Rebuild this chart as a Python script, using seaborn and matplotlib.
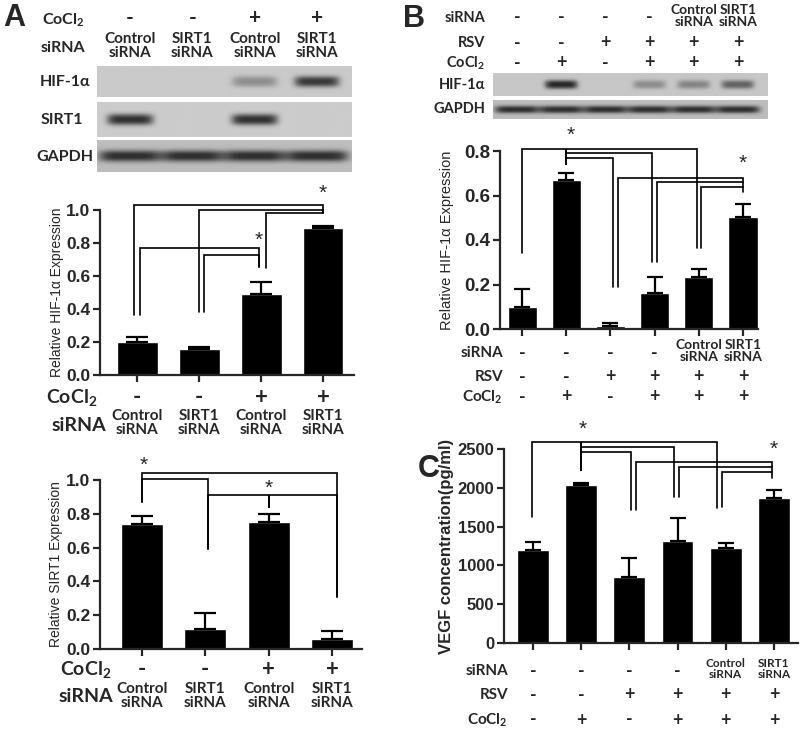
import numpy as np
import matplotlib
matplotlib.use('Agg')
import matplotlib.pyplot as plt
import matplotlib.transforms as mtransforms
import seaborn as sns

sns.set_style('ticks')
plt.rcParams['font.family'] = ['Liberation Sans', 'DejaVu Sans']
plt.rcParams['mathtext.default'] = 'regular'
LAB = ['Lato', 'DejaVu Sans']

# ---- panel A data ----
a_cocl = ['-', '-', '+', '+']
a_sirna = ['Control\nsiRNA', 'SIRT1\nsiRNA', 'Control\nsiRNA', 'SIRT1\nsiRNA']
a_hif = [0.20, 0.16, 0.49, 0.89]
a_hif_err = [0.03, 0.008, 0.075, 0.015]
a_sirt = [0.74, 0.12, 0.75, 0.06]
a_sirt_err = [0.045, 0.095, 0.05, 0.045]
a_blot_hif = [0.0, 0.0, 0.35, 0.85]
a_blot_sirt = [0.9, 0.0, 0.9, 0.0]
a_blot_gapdh = [0.9, 0.9, 0.9, 0.9]

# ---- panel B data ----
b_sirna = ['-', '-', '-', '-', 'Control\nsiRNA', 'SIRT1\nsiRNA']
b_rsv = ['-', '-', '+', '+', '+', '+']
b_cocl = ['-', '+', '-', '+', '+', '+']
b_hif = [0.10, 0.67, 0.015, 0.16, 0.235, 0.505]
b_hif_err = [0.078, 0.03, 0.012, 0.075, 0.035, 0.055]
b_blot_hif = [0.0, 0.95, 0.0, 0.35, 0.4, 0.6]
b_blot_gapdh = [0.9, 0.9, 0.9, 0.9, 0.9, 0.9]

# ---- panel C data ----
c_vegf = [1200, 2030, 845, 1310, 1230, 1865]
c_vegf_err = [100, 30, 245, 300, 60, 105]

# significance brackets: (x_left, x_right, top, left_end, right_end)
a_hif_br = [(-0.05, 3.0, 1.03, 0.364, 0.98), (0.99, 3.0, 1.0, 0.38, 0.98),
            (2.075, 3.0, 0.98, 0.65, 0.98), (0.04, 1.96, 0.77, 0.364, 0.657),
            (1.08, 1.96, 0.727, 0.38, 0.657)]
a_hif_stars = [(3.0, 1.10), (1.96, 0.814)]
a_sirt_br = [(0.0, 3.08, 1.043, 0.867, 0.31), (0.0, 1.04, 1.006, 0.867, 0.59),
             (1.04, 3.08, 0.91, 0.59, 0.31), (2.0, 2.0, 0.91, 0.84, 0.84)]
a_sirt_stars = [(0.03, 1.085), (2.0, 0.95)]
b_br = [(0.0, 3.95, 0.81, 0.34, 0.366), (1.0, 1.0, 0.81, 0.743, 0.743),
        (1.0, 2.95, 0.79, 0.79, 0.302), (1.0, 2.05, 0.768, 0.768, 0.19),
        (2.17, 5.0, 0.679, 0.19, 0.616), (3.05, 5.0, 0.661, 0.302, 0.661),
        (4.05, 5.0, 0.638, 0.366, 0.638)]
b_stars = [(1.09, 0.87), (5.0, 0.743)]
c_br = [(-0.02, 3.81, 2586, 1621, 1737), (1.0, 1.0, 2586, 2233, 2233),
        (1.0, 2.93, 2526, 2526, 1879), (1.0, 2.03, 2461, 2461, 1716),
        (2.14, 4.97, 2332, 1716, 2125), (3.04, 4.97, 2263, 1879, 2263),
        (3.92, 4.97, 2198, 1750, 2198)]
c_stars = [(1.03, 2759), (5.0, 2500)]

W, H = 800, 748
fig = plt.figure(figsize=(8, 7.48), dpi=100)


def px_axes(x0, y0, x1, y1):
    return fig.add_axes([x0 / W, 1 - y1 / H, (x1 - x0) / W, (y1 - y0) / H])


def ftext(x, y, s, **kw):
    fig.text(x / W, 1 - y / H, s, **kw)


def lane_text(ax, x, y, s, **kw):
    tr = mtransforms.blended_transform_factory(ax.transData, fig.transFigure)
    ax.text(x, 1 - y / H, s, transform=tr, ha='center', va='center', clip_on=False, **kw)


def blot(box, levels, xlim, half, thick, bg):
    ax = px_axes(*box)
    xs = np.linspace(xlim[0], xlim[1], 500)
    ys = np.linspace(-1, 1, 80)
    img = np.full((80, 500), bg)
    for i, a in enumerate(levels):
        prof_x = np.exp(-(np.abs(xs - i) / half) ** 6)
        prof_y = np.exp(-(np.abs(ys) / thick) ** 2.5)
        img -= a * (bg - 0.12) * np.outer(prof_y, prof_x)
    ax.imshow(img, cmap='gray', vmin=0, vmax=1, aspect='auto',
              extent=(xlim[0], xlim[1], -1, 1), interpolation='bilinear')
    ax.set_xlim(xlim)
    ax.axis('off')
    return ax


def bars(box, vals, errs, xlim, ylim, yticks, fmt, capsize, ticksize):
    ax = px_axes(*box)
    n = len(vals)
    sns.barplot(x=list(range(n)), y=vals, color='black', saturation=1,
                width=0.66, errorbar=None, ax=ax)
    ax.errorbar(range(n), vals, yerr=[np.zeros(n), errs], fmt='none', ecolor='black',
                elinewidth=1.6, capsize=capsize, capthick=1.6)
    ax.set_xlim(xlim)
    ax.set_ylim(ylim)
    ax.set_xticks(range(n))
    ax.set_xticklabels([])
    ax.set_yticks(yticks)
    ax.set_yticklabels([fmt % t for t in yticks], fontsize=ticksize, fontweight='bold')
    ax.tick_params(direction='out', length=5, width=1.6, pad=2)
    ax.set_xlabel('')
    sns.despine(ax=ax)
    for s in ['left', 'bottom']:
        ax.spines[s].set_linewidth(1.6)
    return ax


def brackets(ax, specs, stars):
    for xl, xr, top, yl, yr in specs:
        ax.plot([xl, xl, xr, xr], [yl, top, top, yr], color='black', lw=1.2,
                clip_on=False, solid_joinstyle='miter')
    for x, y in stars:
        ax.text(x, y, '*', ha='center', va='center', fontsize=15, clip_on=False)


# ================= Panel A =================
ftext(14, 18, 'A', fontsize=22, fontweight='bold', ha='center', va='center')
axb = blot((97, 66, 352, 97), a_blot_hif, (-0.53, 3.56), 0.36, 0.35, 0.79)
blot((97, 102, 352, 137), a_blot_sirt, (-0.53, 3.56), 0.37, 0.32, 0.80)
blot((97, 140, 352, 172), a_blot_gapdh, (-0.53, 3.56), 0.5, 0.36, 0.74)
ftext(63, 20, 'CoCl$_2$', fontsize=11.5, fontweight='bold', family=LAB, ha='center', va='center')
ftext(63, 48, 'siRNA', fontsize=11.5, fontweight='bold', family=LAB, ha='center', va='center')
ftext(65, 82, 'HIF-1α', fontsize=11.5, fontweight='bold', family=LAB, ha='center', va='center')
ftext(62, 120, 'SIRT1', fontsize=11.5, fontweight='bold', family=LAB, ha='center', va='center')
ftext(65, 157, 'GAPDH', fontsize=11.5, fontweight='bold', family=LAB, ha='center', va='center')
for i in range(4):
    lane_text(axb, i, 18, a_cocl[i], fontsize=15, fontweight='bold', family=LAB)
    lane_text(axb, i, 46, a_sirna[i], fontsize=11, fontweight='bold', family=LAB, linespacing=1.05)

ax1 = bars((100, 210, 354, 375), a_hif, a_hif_err, (-0.6, 3.5), (0, 1.0),
           [0.0, 0.2, 0.4, 0.6, 0.8, 1.0], '%.1f', 8, 12.5)
ax1.set_ylabel('Relative HIF-1α Expression', fontsize=10)
ax1.yaxis.set_label_coords(-0.14, 0.5)
brackets(ax1, a_hif_br, a_hif_stars)
ftext(72, 397, 'CoCl$_2$', fontsize=14, fontweight='bold', family=LAB, ha='center', va='center')
ftext(79, 425, 'siRNA', fontsize=14, fontweight='bold', family=LAB, ha='center', va='center')
for i in range(4):
    lane_text(ax1, i, 397, a_cocl[i], fontsize=16, fontweight='bold', family=LAB)
    lane_text(ax1, i, 423, a_sirna[i], fontsize=11, fontweight='bold', family=LAB, linespacing=1.05)

ax2 = bars((100, 480, 362, 649), a_sirt, a_sirt_err, (-0.66, 3.47), (0, 1.0),
           [0.0, 0.2, 0.4, 0.6, 0.8, 1.0], '%.1f', 8, 12.5)
ax2.set_ylabel('Relative SIRT1 Expression', fontsize=10)
ax2.yaxis.set_label_coords(-0.14, 0.5)
brackets(ax2, a_sirt_br, a_sirt_stars)
ftext(86, 670, 'CoCl$_2$', fontsize=14, fontweight='bold', family=LAB, ha='center', va='center')
ftext(86, 697, 'siRNA', fontsize=14, fontweight='bold', family=LAB, ha='center', va='center')
for i in range(4):
    lane_text(ax2, i, 670, a_cocl[i], fontsize=16, fontweight='bold', family=LAB)
    lane_text(ax2, i, 696, a_sirna[i], fontsize=11, fontweight='bold', family=LAB, linespacing=1.05)

# ================= Panel B =================
ftext(414, 19, 'B', fontsize=22, fontweight='bold', ha='center', va='center')
axh = blot((493, 73, 768, 96), b_blot_hif, (-0.54, 5.68), 0.37, 0.38, 0.78)
blot((493, 100, 768, 119), b_blot_gapdh, (-0.54, 5.68), 0.5, 0.4, 0.74)
for lab, y in [('siRNA', 18), ('RSV', 43), ('CoCl$_2$', 63), ('HIF-1α', 85), ('GAPDH', 109)]:
    ftext(485, y, lab, fontsize=10.5, fontweight='bold', family=LAB, ha='right', va='center')
for i in range(6):
    big = b_sirna[i] in ('-', '+')
    lane_text(axh, i, 18 if big else 16, b_sirna[i], fontsize=13 if big else 10,
              fontweight='bold', family=LAB, linespacing=1.05)
    lane_text(axh, i, 43, b_rsv[i], fontsize=13, fontweight='bold', family=LAB)
    lane_text(axh, i, 63, b_cocl[i], fontsize=13, fontweight='bold', family=LAB)

ax3 = bars((500, 151, 758, 329), b_hif, b_hif_err, (-0.5, 5.34), (0, 0.8),
           [0.0, 0.2, 0.4, 0.6, 0.8], '%.1f', 6, 13.5)
ax3.set_ylabel('Relative HIF-1α Expression', fontsize=10.5)
ax3.yaxis.set_label_coords(-0.18, 0.5)
brackets(ax3, b_br, b_stars)
for lab, y in [('siRNA', 353), ('RSV', 377), ('CoCl$_2$', 397)]:
    ftext(503, y, lab, fontsize=11, fontweight='bold', family=LAB, ha='right', va='center')
for i in range(6):
    big = b_sirna[i] in ('-', '+')
    lane_text(ax3, i, 353 if big else 351, b_sirna[i], fontsize=13 if big else 10,
              fontweight='bold', family=LAB, linespacing=1.05)
    lane_text(ax3, i, 377, b_rsv[i], fontsize=13, fontweight='bold', family=LAB)
    lane_text(ax3, i, 397, b_cocl[i], fontsize=13, fontweight='bold', family=LAB)

# ================= Panel C =================
ftext(429, 469, 'C', fontsize=22, fontweight='bold', ha='center', va='center')
ax4 = bars((504, 449, 798, 643), c_vegf, c_vegf_err, (-0.6, 5.5), (0, 2500),
           [0, 500, 1000, 1500, 2000, 2500], '%d', 6, 12)
ax4.set_ylabel('VEGF concentration(pg/ml)', fontsize=12, fontweight='bold')
ax4.yaxis.set_label_coords(-0.17, 0.5)
brackets(ax4, c_br, c_stars)
for lab, y in [('siRNA', 671), ('RSV', 695), ('CoCl$_2$', 720)]:
    ftext(508, y, lab, fontsize=11, fontweight='bold', family=LAB, ha='right', va='center')
for i in range(6):
    big = b_sirna[i] in ('-', '+')
    lane_text(ax4, i, 671 if big else 669, b_sirna[i], fontsize=13 if big else 8.5,
              fontweight='bold', family=LAB, linespacing=1.1)
    lane_text(ax4, i, 695, b_rsv[i], fontsize=13, fontweight='bold', family=LAB)
    lane_text(ax4, i, 720, b_cocl[i], fontsize=13, fontweight='bold', family=LAB)

fig.savefig('out.png', dpi=100, facecolor='white')
